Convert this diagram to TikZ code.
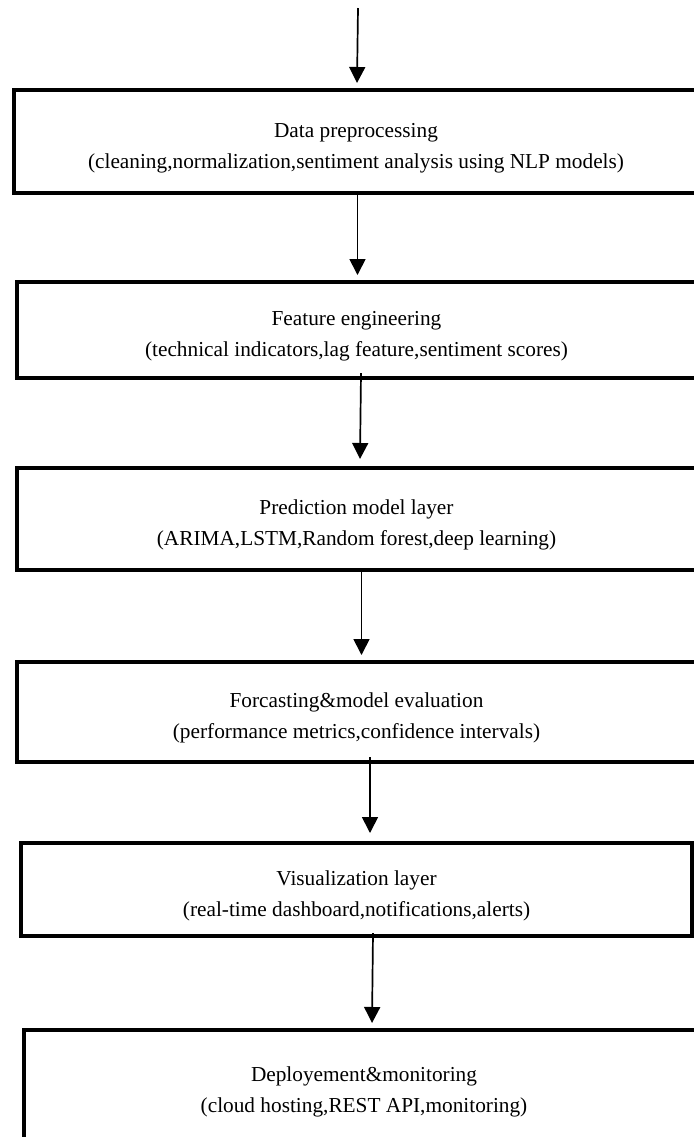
\documentclass[tikz,border=0pt]{standalone}
\usepackage{fontspec}
\setmainfont{Liberation Serif}
\usetikzlibrary{arrows.meta,calc}
\begin{document}
\begin{tikzpicture}[x=0.5pt,y=-0.5pt,
    layer/.style={draw,line width=2.15pt,outer sep=0pt,inner sep=0pt,align=center,
      font=\fontsize{10.65pt}{15.5pt}\selectfont,text height=29pt,text depth=2.3pt},
    flow/.style={line width=0.85pt,-{Triangle[length=8pt,width=8pt]}}]
  \useasboundingbox (0,0) rectangle (694,1137);
  \clip (0,0) rectangle (694,1137);
  \node[layer,minimum width=342pt,minimum height=51.5pt] (prep) at (356,141.5)
    {Data preprocessing\\(cleaning,normalization,sentiment analysis using NLP models)};
  \node[layer,minimum width=339.5pt,minimum height=48pt] (feat) at (356.5,330)
    {Feature engineering\\(technical indicators,lag feature,sentiment scores)};
  \node[layer,minimum width=339.5pt,minimum height=51pt] (model) at (356.5,519)
    {Prediction model layer\\(ARIMA,LSTM,Random forest,deep learning)};
  \node[layer,minimum width=339.5pt,minimum height=50pt] (eval) at (356.5,712)
    {Forcasting\&model evaluation\\(performance metrics,confidence intervals)};
  \node[layer,minimum width=335.5pt,minimum height=46.5pt] (viz) at (356.5,889.5)
    {Visualization layer\\(real-time dashboard,notifications,alerts)};
  \node[layer,minimum width=340pt,minimum height=56pt] (deploy) at (364,1086)
    {Deployement\&monitoring\\(cloud hosting,REST API,monitoring)};
  \coordinate (src) at (358,8);
  \draw[flow] (src) -- ($(prep.north)+(1,-7)$);
  \draw[flow] ($(prep.south)+(1.5,0)$) -- ($(feat.north)+(1,-7)$);
  \draw[flow] ($(feat.south)+(4.5,-5)$) -- ($(model.north)+(3.5,-9)$);
  \draw[flow] ($(model.south)+(5,0)$) -- ($(eval.north)+(5,-7)$);
  \draw[flow] ($(eval.south)+(13.5,-5)$) -- ($(viz.north)+(13.5,-10)$);
  \draw[flow] ($(viz.south)+(16.5,-3)$) -- ($(deploy.north)+(8,-7)$);
\end{tikzpicture}
\end{document}
